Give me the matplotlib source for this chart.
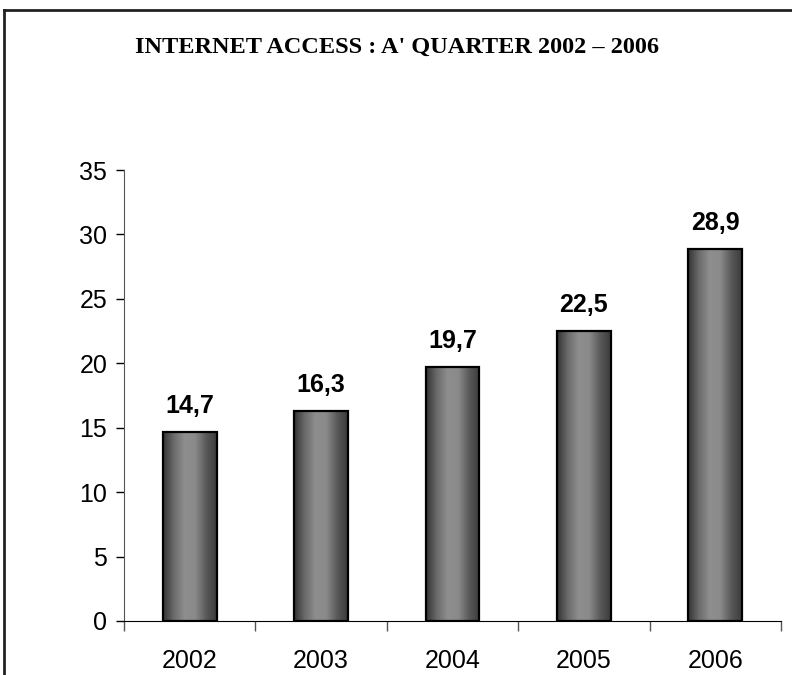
import numpy as np
import matplotlib
matplotlib.use("Agg")
import matplotlib.pyplot as plt
from matplotlib.lines import Line2D
from matplotlib.colors import LinearSegmentedColormap

years = ["2002", "2003", "2004", "2005", "2006"]
values = [14.7, 16.3, 19.7, 22.5, 28.9]
labels = ["14,7", "16,3", "19,7", "22,5", "28,9"]
title = "INTERNET ACCESS : A' QUARTER 2002 \u2013 2006"

fig = plt.figure(figsize=(7.92, 6.75), dpi=100)
ax = fig.add_axes([124 / 792, 1 - 621 / 675, (781 - 124) / 792, (621 - 170) / 675])

# outer chart-area border: only the top and left edges are inside the image
top = 1 - 10 / 675
left = 4 / 792
fig.lines.append(Line2D([left, 1.05], [top, top], transform=fig.transFigure,
                        color="#222222", linewidth=2))
fig.lines.append(Line2D([left, left], [-0.05, top], transform=fig.transFigure,
                        color="#222222", linewidth=2))

x = np.arange(len(years))
bars = ax.bar(x, values, width=0.41, color="none", edgecolor="black",
              linewidth=1.6, zorder=3)

cmap = LinearSegmentedColormap.from_list(
    "cyl", ["#333333", "#6a6a6a", "#8e8e8e", "#8a8a8a", "#5a5a5a", "#3a3a3a"])
grad = np.linspace(0, 1, 256).reshape(1, -1)
for b in bars:
    x0, w, h = b.get_x(), b.get_width(), b.get_height()
    im = ax.imshow(grad, cmap=cmap, aspect="auto", extent=[x0, x0 + w, 0, h],
                   zorder=2, interpolation="bilinear")
    im.set_clip_path(b)

for xi, v, lab in zip(x, values, labels):
    ax.annotate(lab, (xi, v), xytext=(0, 10), textcoords="offset points",
                ha="center", va="bottom", fontsize=18, fontweight="bold",
                family="Liberation Sans")

ax.set_xlim(-0.5, len(years) - 0.5)
ax.set_ylim(0, 35)
ax.set_yticks(range(0, 36, 5))
ax.set_xticks(x)
ax.set_xticklabels(years)
ax.set_xticks(np.arange(-0.5, len(years)), minor=True)
ax.tick_params(axis="x", which="major", length=0, pad=20, labelsize=18)
ax.tick_params(axis="x", which="minor", length=7, width=1, color="#555555")
ax.tick_params(axis="y", length=6, width=1, pad=6, labelsize=18)
for t in ax.get_xticklabels() + ax.get_yticklabels():
    t.set_family("Liberation Sans")
ax.spines["top"].set_visible(False)
ax.spines["right"].set_visible(False)
ax.spines["left"].set_color("#555555")

fig.text(397 / 792, 1 - 47 / 675, title, ha="center", va="center",
         fontsize=17.5, fontweight="bold", family="Liberation Serif")

fig.savefig("out.png", dpi=100)
